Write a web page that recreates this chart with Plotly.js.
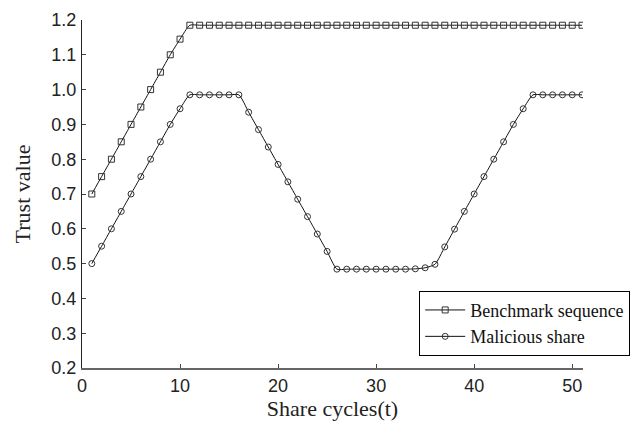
<!DOCTYPE html>
<html>
<head>
<meta charset="utf-8">
<script src="https://cdn.plot.ly/plotly-3.0.1.min.js"></script>
<style>html,body{margin:0;padding:0;background:#fff;}#chart{width:637px;height:423px;}</style>
</head>
<body>
<div id="chart"></div>
<script>
const shareCycles = [1,2,3,4,5,6,7,8,9,10,11,12,13,14,15,16,17,18,19,20,21,22,23,24,25,26,27,28,29,30,31,32,33,34,35,36,37,38,39,40,41,42,43,44,45,46,47,48,49,50,51];
const benchmarkSequence = [0.70,0.75,0.80,0.85,0.90,0.95,1.00,1.05,1.10,1.145,
  1.185,1.185,1.185,1.185,1.185,1.185,1.185,1.185,1.185,1.185,
  1.185,1.185,1.185,1.185,1.185,1.185,1.185,1.185,1.185,1.185,
  1.185,1.185,1.185,1.185,1.185,1.185,1.185,1.185,1.185,1.185,
  1.185,1.185,1.185,1.185,1.185,1.185,1.185,1.185,1.185,1.185,1.185];
const maliciousShare = [0.50,0.55,0.60,0.65,0.70,0.75,0.80,0.85,0.90,0.945,
  0.985,0.985,0.985,0.985,0.985,0.985,0.935,0.885,0.835,0.785,
  0.735,0.685,0.635,0.585,0.535,0.484,0.484,0.484,0.484,0.484,
  0.484,0.484,0.484,0.485,0.488,0.498,0.548,0.599,0.650,0.700,
  0.750,0.800,0.850,0.900,0.945,0.985,0.985,0.985,0.985,0.985,0.985];
const seriesNames = ["Benchmark sequence", "Malicious share"];

const serif = "Liberation Serif, Times New Roman, serif";
const sans = "Liberation Sans, Arial, sans-serif";

const traces = [
  {x: shareCycles, y: benchmarkSequence, name: seriesNames[0], type: "scatter", mode: "lines+markers",
   line: {color: "#111", width: 1, shape: "spline", smoothing: 0.6},
   marker: {symbol: "square-open", size: 6, color: "#333", line: {width: 1, color: "#333"}}},
  {x: shareCycles, y: maliciousShare, name: seriesNames[1], type: "scatter", mode: "lines+markers",
   line: {color: "#111", width: 1, shape: "spline", smoothing: 0.6},
   marker: {symbol: "circle-open", size: 6, color: "#333", line: {width: 1, color: "#333"}}}
];

const layout = {
  width: 637, height: 423,
  margin: {l: 82, r: 54, t: 20, b: 55, pad: 0, autoexpand: false},
  paper_bgcolor: "#fff", plot_bgcolor: "#fff",
  showlegend: true,
  legend: {x: 0.673, y: 0.222, xanchor: "left", yanchor: "top",
    bordercolor: "#000", borderwidth: 1, bgcolor: "#fff",
    font: {family: serif, size: 18, color: "#111"}, tracegroupgap: 0, itemwidth: 40},
  xaxis: {
    range: [0, 51.1], tickvals: [0,10,20,30,40,50], ticks: "inside", ticklen: 4, tickcolor: "#444",
    showgrid: false, zeroline: false, showline: true, linecolor: "#666", linewidth: 2,
    tickfont: {family: sans, size: 18, color: "#222"},
    title: {text: "Share cycles(t)", font: {family: serif, size: 22, color: "#222"}, standoff: 4}
  },
  yaxis: {
    range: [0.2, 1.2], dtick: 0.1, tick0: 0.2, tickformat: ".1f", ticks: "inside", ticklen: 4, tickcolor: "#444",
    showgrid: false, zeroline: false, showline: true, linecolor: "#222", linewidth: 1,
    tickfont: {family: sans, size: 18, color: "#222"}, ticklabelstandoff: 1,
    title: {text: "Trust value", font: {family: serif, size: 22, color: "#222"}, standoff: 14}
  }
};

Plotly.newPlot("chart", traces, layout, {displayModeBar: false, staticPlot: true});
</script>
</body>
</html>
